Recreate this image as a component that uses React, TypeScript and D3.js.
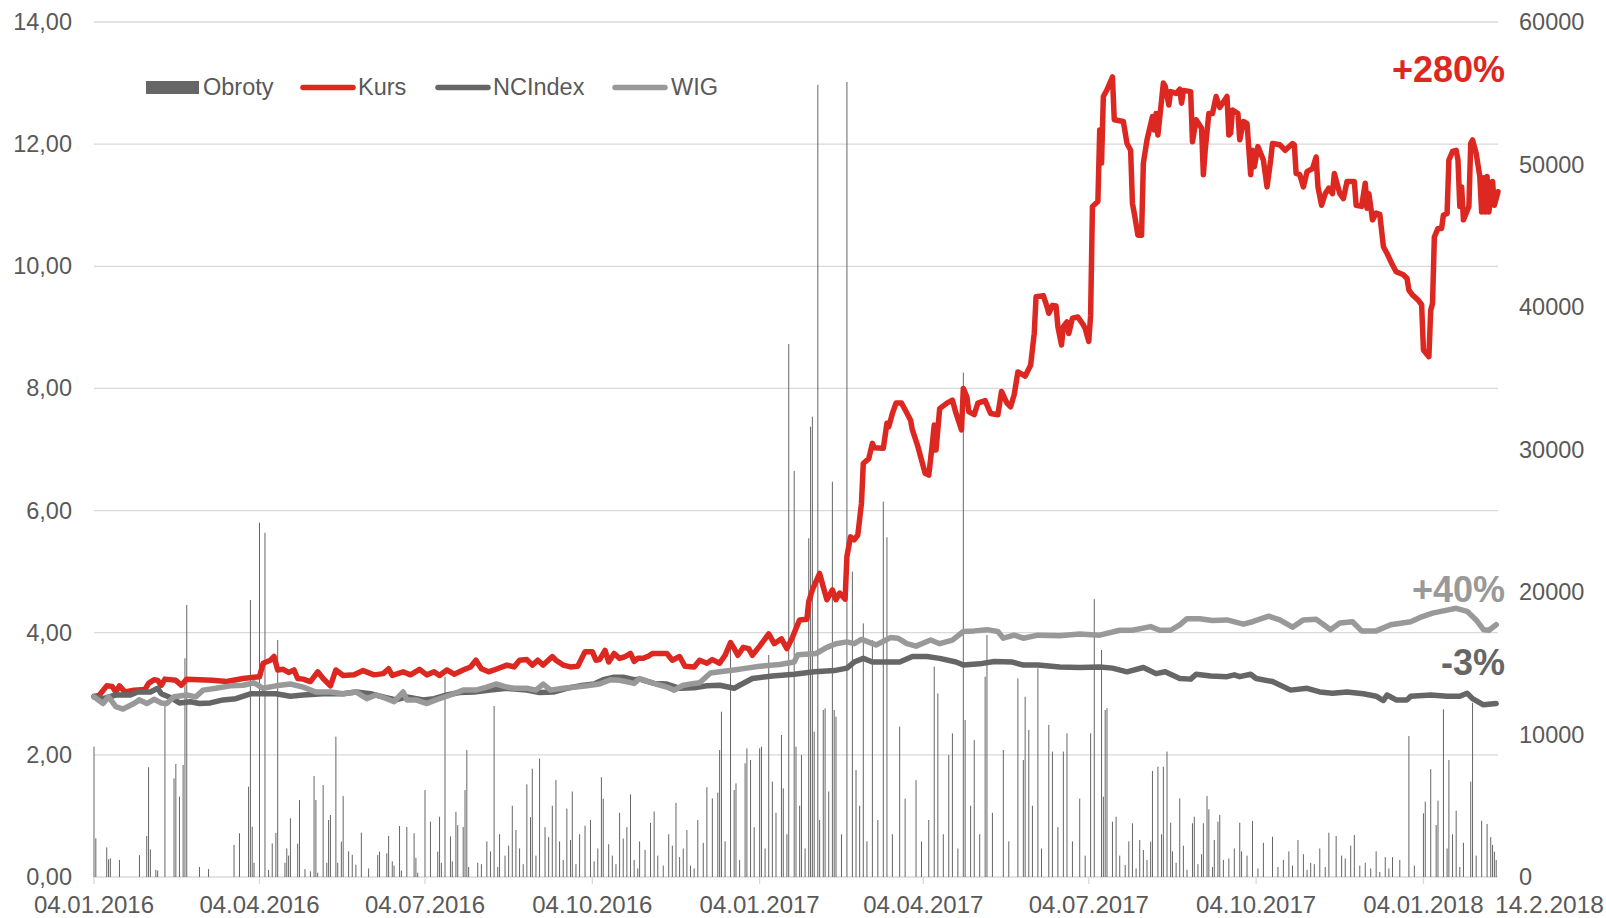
import React from "react";
import * as d3 from "d3";

// ---- data (day offset from 04.01.2016, value) ----
const KURS: [number, number][] = [
  [0,2.95],[3,2.98],[7,3.13],[10,3.12],[12,3.03],[14,3.13],[17,3.03],[22,3.06],[28,3.07],[30,3.17],[33,3.23],[35,3.22],[37,3.14],[39,3.24],[45,3.22],[48,3.14],[51,3.24],[58,3.23],[65,3.22],[73,3.2],[82,3.25],[91,3.28],[93,3.5],[97,3.55],[99,3.61],[101,3.39],[104,3.4],[107,3.35],[110,3.39],[112,3.25],[115,3.24],[119,3.2],[123,3.36],[126,3.25],[130,3.13],[133,3.39],[137,3.3],[143,3.31],[148,3.38],[154,3.31],[159,3.33],[162,3.41],[164,3.3],[170,3.36],[174,3.31],[179,3.4],[183,3.31],[187,3.36],[190,3.3],[194,3.39],[198,3.32],[203,3.39],[207,3.44],[210,3.55],[213,3.41],[217,3.36],[220,3.39],[227,3.47],[231,3.44],[234,3.55],[238,3.56],[241,3.47],[244,3.55],[247,3.47],[252,3.61],[254,3.55],[258,3.47],[262,3.44],[266,3.45],[270,3.69],[274,3.69],[276,3.55],[278,3.56],[281,3.71],[283,3.52],[286,3.66],[289,3.58],[292,3.61],[295,3.66],[297,3.53],[299,3.58],[302,3.58],[305,3.62],[307,3.66],[315,3.66],[318,3.55],[322,3.61],[325,3.45],[330,3.44],[333,3.55],[337,3.5],[340,3.56],[344,3.5],[347,3.63],[350,3.84],[352,3.74],[354,3.63],[357,3.76],[360,3.74],[362,3.63],[366,3.78],[371,3.98],[374,3.82],[378,3.9],[381,3.74],[384,3.92],[386,4.07],[388,4.21],[392,4.22],[393,4.51],[395,4.7],[399,4.97],[401,4.75],[403,4.54],[406,4.7],[408,4.54],[410,4.65],[413,4.55],[414,5.25],[416,5.57],[418,5.52],[420,5.6],[422,6.12],[423,6.77],[426,6.85],[428,7.1],[429,7.03],[434,7.02],[436,7.43],[437,7.37],[439,7.59],[441,7.76],[444,7.76],[446,7.65],[449,7.48],[450,7.32],[453,7.05],[457,6.61],[459,6.58],[461,7.1],[462,7.4],[463,6.99],[465,7.67],[469,7.76],[472,7.81],[474,7.59],[477,7.32],[478,8.0],[480,7.86],[481,7.62],[484,7.57],[486,7.76],[490,7.8],[493,7.59],[497,7.57],[499,7.95],[502,7.76],[504,7.7],[506,7.9],[508,8.27],[512,8.2],[515,8.38],[517,8.9],[518,9.5],[522,9.52],[524,9.34],[525,9.23],[527,9.36],[529,9.35],[530,9.01],[532,8.71],[533,9.01],[535,9.09],[536,8.9],[538,9.15],[541,9.17],[544,9.04],[545,8.98],[547,8.77],[548,9.2],[549,10.98],[552,11.06],[553,12.23],[554,11.69],[555,12.78],[557,12.89],[560,13.1],[561,12.4],[566,12.37],[568,12.01],[570,11.9],[571,11.03],[572,10.87],[574,10.51],[576,10.51],[577,11.69],[579,12.07],[582,12.45],[583,12.23],[584,12.5],[585,12.15],[588,13.0],[589,12.95],[591,12.64],[592,12.86],[595,12.83],[597,12.9],[598,12.67],[599,12.88],[603,12.86],[604,12.04],[606,12.4],[609,12.26],[610,11.5],[611,11.9],[613,12.5],[615,12.5],[617,12.78],[619,12.6],[623,12.78],[624,12.15],[625,12.18],[626,12.56],[629,12.5],[630,12.07],[632,12.37],[634,12.34],[636,11.5],[637,11.9],[638,11.63],[640,11.96],[643,11.74],[645,11.3],[647,11.74],[648,12.01],[652,11.99],[655,11.9],[659,12.01],[660,11.99],[661,11.52],[663,11.5],[665,11.3],[667,11.55],[670,11.6],[672,11.79],[673,11.3],[675,11.0],[677,11.19],[679,11.28],[681,11.19],[682,11.52],[683,11.41],[685,11.19],[687,11.11],[689,11.39],[693,11.39],[694,11.0],[697,10.98],[699,11.36],[700,10.95],[701,11.19],[703,10.76],[705,10.87],[707,10.85],[709,10.32],[711,10.21],[714,10.02],[716,9.91],[720,9.86],[722,9.8],[723,9.61],[725,9.53],[728,9.45],[730,9.37],[731,8.63],[734,8.52],[735,9.28],[736,9.39],[737,10.48],[739,10.62],[741,10.62],[742,10.84],[744,10.86],[745,11.74],[747,11.88],[749,11.9],[750,11.74],[751,10.98],[752,11.3],[753,10.76],[756,10.98],[757,12.01],[758,12.07],[760,11.85],[762,11.47],[763,10.89],[764,11.45],[765,10.89],[766,11.47],[767,10.89],[769,11.39],[770,11.0],[772,11.22]
];

const NCINDEX: [number, number][] = [
  [0,2.96],[5,2.92],[12,2.98],[20,2.98],[24,3.03],[31,3.03],[35,3.09],[37,3.0],[42,2.94],[47,2.85],[53,2.87],[58,2.84],[64,2.85],[71,2.9],[78,2.92],[86,3.0],[91,3.0],[100,3.0],[108,2.96],[115,2.98],[126,3.0],[137,3.0],[144,3.03],[152,3.0],[159,2.95],[166,2.9],[172,2.95],[181,2.9],[187,2.92],[194,2.98],[201,3.02],[209,3.03],[218,3.06],[227,3.09],[238,3.06],[245,3.02],[253,3.03],[260,3.09],[267,3.13],[275,3.16],[280,3.23],[286,3.27],[291,3.27],[297,3.23],[300,3.24],[308,3.17],[315,3.16],[322,3.09],[330,3.1],[337,3.13],[344,3.14],[352,3.09],[355,3.14],[362,3.25],[373,3.29],[385,3.32],[396,3.36],[407,3.38],[414,3.42],[418,3.52],[423,3.58],[428,3.52],[436,3.52],[443,3.52],[450,3.61],[458,3.61],[465,3.58],[474,3.52],[478,3.47],[487,3.49],[495,3.53],[505,3.52],[511,3.47],[519,3.47],[531,3.44],[542,3.43],[553,3.44],[560,3.42],[568,3.36],[577,3.43],[584,3.33],[589,3.36],[597,3.25],[603,3.24],[606,3.32],[614,3.29],[623,3.28],[627,3.31],[630,3.28],[636,3.32],[639,3.25],[648,3.2],[658,3.06],[667,3.09],[674,3.03],[681,3.01],[689,3.03],[698,3.0],[705,2.96],[709,2.89],[711,2.98],[716,2.9],[722,2.9],[724,2.96],[735,2.98],[744,2.96],[751,2.96],[755,3.01],[758,2.92],[764,2.82],[771,2.84]
];

const WIG: [number, number][] = [
  [0,2.95],[5,2.84],[8,2.95],[12,2.79],[16,2.75],[22,2.84],[25,2.9],[29,2.84],[33,2.91],[37,2.85],[40,2.84],[44,2.95],[51,2.98],[56,2.95],[60,3.06],[67,3.09],[75,3.13],[82,3.14],[88,3.18],[93,3.09],[100,3.13],[108,3.16],[115,3.11],[122,3.03],[130,3.03],[137,3.0],[144,3.03],[150,2.92],[155,2.98],[161,2.92],[165,2.87],[170,3.03],[172,2.9],[177,2.9],[183,2.84],[188,2.9],[196,2.98],[203,3.06],[210,3.06],[216,3.11],[221,3.16],[227,3.11],[231,3.09],[238,3.09],[243,3.06],[247,3.16],[251,3.06],[258,3.09],[265,3.11],[271,3.13],[278,3.16],[284,3.23],[289,3.22],[297,3.17],[300,3.25],[305,3.2],[309,3.16],[315,3.11],[319,3.06],[324,3.14],[330,3.17],[333,3.18],[339,3.34],[344,3.36],[352,3.39],[359,3.42],[366,3.45],[377,3.48],[385,3.52],[387,3.64],[397,3.66],[403,3.76],[408,3.82],[414,3.85],[418,3.82],[422,3.89],[430,3.8],[438,3.92],[442,3.91],[447,3.82],[452,3.78],[460,3.88],[465,3.82],[472,3.88],[478,4.02],[484,4.03],[491,4.05],[497,4.02],[500,3.91],[506,3.96],[511,3.91],[519,3.96],[531,3.95],[542,3.98],[553,3.96],[564,4.04],[571,4.04],[581,4.1],[586,4.04],[592,4.04],[597,4.13],[601,4.23],[608,4.23],[615,4.2],[623,4.21],[632,4.14],[637,4.18],[646,4.27],[652,4.21],[659,4.09],[665,4.21],[672,4.22],[680,4.05],[685,4.16],[692,4.18],[697,4.03],[705,4.03],[713,4.13],[724,4.18],[730,4.26],[736,4.32],[744,4.37],[749,4.4],[755,4.35],[760,4.21],[764,4.05],[767,4.04],[771,4.13]
];

const OBROTY: [number, number][] = [
  [0,9145],[1,2715],[7,2080],[8,1240],[9,1310],[14,1190],[25,1540],[29,2880],[30,7700],[31,1940],[34,500],[35,450],[39,12190],[44,6920],[45,7930],[47,5640],[49,7860],[50,15350],[51,19090],[58,700],[63,560],[77,2250],[80,3070],[85,6340],[86,19440],[87,3530],[88,1000],[91,24870],[94,24150],[96,500],[98,2360],[100,3090],[101,16630],[105,1000],[106,2000],[107,1500],[108,4120],[112,2340],[113,5400],[116,550],[119,400],[121,7090],[122,5400],[123,300],[126,6460],[128,1000],[129,4000],[130,4350],[133,9850],[134,1000],[136,2480],[137,5680],[140,1800],[142,1560],[144,860],[147,3110],[151,600],[156,1540],[157,1780],[161,1660],[162,2880],[164,1100],[165,800],[168,3580],[169,450],[172,3510],[176,3070],[177,1350],[178,300],[182,6100],[185,3880],[189,1780],[190,4230],[191,1000],[193,14060],[196,2850],[197,1100],[199,4580],[200,3640],[203,3510],[204,6100],[205,8910],[206,700],[211,1000],
  [213,900],[216,2500],[218,1800],[220,12000],[222,700],[223,3000],[226,1500],[228,2200],[230,5000],[232,3300],[234,2000],[236,900],[238,6500],[240,4200],[241,7600],[243,1500],[245,8300],[248,3500],[250,2800],[252,5000],[254,6800],[256,2500],[258,1200],[260,4800],[262,2600],[263,6000],[265,900],[267,3000],[270,3600],[273,4000],[275,1100],[277,2000],[279,7000],[280,5500],[283,2300],[285,1500],[287,900],[289,4500],[291,2700],[293,3500],[295,5800],[297,1200],[299,600],[300,2500],[303,1900],[306,3800],[308,4600],[310,1500],[313,800],[316,3000],[318,2200],[320,5200],[322,1400],[324,2000],[326,3300],[328,800],[330,600],[332,4000],[335,2400],
  [337,6300],[340,5520],[343,5920],[344,8910],[345,11600],[347,2500],[350,16050],[352,6100],[353,6570],[355,1200],[358,7980],[359,9030],[361,8210],[363,3500],[366,9030],[367,9145],[369,2000],[371,15580],[373,6690],[375,4500],[378,9970],[379,6220],[381,3000],[382,37400],[385,28500],[386,9145],[388,5000],[389,8560],[391,2000],[393,23770],[394,31600],[395,32300],[396,10200],[398,55600],[399,4000],[401,11720],[402,11840],[404,6000],[406,27740],[407,11720],[408,11250],[411,3000],[414,55800],[417,21430],[419,7510],[421,5000],[423,17800],[425,2500],[428,16630],[431,4000],[434,26340],[436,23840],[439,3000],[443,10550],[446,5500],[452,6800],[455,2500],[459,4000],[462,14760],[464,12890],[467,3000],[470,8560],[472,10080],[475,2000],[478,35400],[479,11020],[482,5000],[484,9610],[487,3000],[490,14060],[491,16980],[494,4500],[500,8910],[503,2500],[508,13940],[511,8210],[512,12650],[514,10320],[516,5000],[519,14650],[521,2000],[525,10670],[527,8800],[530,3500],[533,8800],[535,10080],[538,2500],[542,5500],[545,1500],[548,10080],[550,19500],
  [554,15930],[555,5640],[556,11720],[557,11840],[560,3880],[562,4230],[564,1500],[567,840],[569,2500],[571,3770],[573,600],[575,2600],[577,1900],[579,1200],[581,2480],[582,7440],[585,7740],[587,3000],[588,7740],[590,8800],[592,3810],[593,1800],[595,1000],[597,5520],[599,2200],[601,500],[604,3770],[605,4230],[607,900],[609,1600],[610,3770],[612,5680],[613,4750],[615,700],[616,2600],[618,3880],[619,4350],[621,1200],[624,1300],[627,2000],[630,3810],[631,1800],[634,1500],[637,3930],[640,600],[643,2400],[648,2830],[651,700],[654,1200],[657,1800],[659,800],[662,2600],[665,1600],[667,500],[669,1000],[671,900],[674,2000],[677,700],[679,3110],[683,2880],[686,1500],[688,1300],[691,2200],[693,2950],[696,800],[699,1000],[702,600],[705,1800],[707,350],[710,1400],[712,600],[714,1400],[718,1200],[723,9900],[726,800],[731,4470],[732,5290],[735,7560],[738,3650],[739,5360],[742,11770],[744,2000],[745,8210],[747,3000],[749,4650],[751,700],[753,2400],[757,6690],[758,12230],[760,1500],[763,3950],[766,3720],[768,2800],[769,2250],[770,1780],[771,1200]
];

const LEFT_TICKS = [0, 2, 4, 6, 8, 10, 12, 14];
const RIGHT_TICKS = [0, 10000, 20000, 30000, 40000, 50000, 60000];
const X_TICKS: [number, number, number, string][] = [
  [2016, 0, 4, "04.01.2016"], [2016, 3, 4, "04.04.2016"], [2016, 6, 4, "04.07.2016"], [2016, 9, 4, "04.10.2016"],
  [2017, 0, 4, "04.01.2017"], [2017, 3, 4, "04.04.2017"], [2017, 6, 4, "04.07.2017"], [2017, 9, 4, "04.10.2017"],
  [2018, 0, 4, "04.01.2018"],
];
const END_LABEL = "14.2.2018";
const LEGEND = [
  { name: "Obroty", kind: "bar", color: "#666666" },
  { name: "Kurs", kind: "line", color: "#DC2820" },
  { name: "NCIndex", kind: "line", color: "#666666" },
  { name: "WIG", kind: "line", color: "#999999" },
];
const ANNOTATIONS = [
  { text: "+280%", color: "#DC2820" },
  { text: "+40%", color: "#999999" },
  { text: "-3%", color: "#666666" },
];

const W = 1606, H = 918;
const X0 = 94, X1 = 1498, Y0 = 877, Y1 = 22;
const FONT = "'Liberation Sans', Arial, sans-serif";

export default function App() {
  const dateOf = (d: number) => new Date(Date.UTC(2016, 0, 4 + d));
  const x = d3.scaleUtc().domain([new Date(Date.UTC(2016, 0, 4)), new Date(Date.UTC(2018, 1, 14))]).range([X0, X1]);
  const yL = d3.scaleLinear().domain([0, 14]).range([Y0, Y1]);
  const yR = d3.scaleLinear().domain([0, 60000]).range([Y0, Y1]);
  const line = d3.line<[number, number]>().x(p => x(dateOf(p[0]))).y(p => yL(p[1]));
  const fmtL = (v: number) => v.toFixed(2).replace(".", ",");

  const legendX = [146, 300, 435, 612];
  const legendTextX = [203, 358, 493, 671];

  return (
    <svg width={W} height={H} style={{ position: "absolute", left: 0, top: 0, background: "#fff" }} fontFamily={FONT}>
      <rect x={0} y={0} width={W} height={H} fill="#fff" />
      {LEFT_TICKS.map(t => (
        <line key={"g" + t} x1={X0} x2={X1} y1={yL(t)} y2={yL(t)} stroke="#D9D9D9" strokeWidth={1.3} />
      ))}
      {X_TICKS.map(([yy, mm, dd]) => {
        const px = x(new Date(Date.UTC(yy, mm, dd)));
        return <line key={"t" + px} x1={px} x2={px} y1={Y0} y2={Y0 + 7} stroke="#D9D9D9" strokeWidth={1.3} />;
      })}
      <g>
        {OBROTY.map(([d, v], i) => (
          <rect key={"b" + i} x={x(dateOf(d)) - 0.5} width={1} y={yR(v)} height={Y0 - yR(v)} fill="#666666" />
        ))}
      </g>
      <path d={line(KURS) || ""} fill="none" stroke="#DC2820" strokeWidth={5.5} strokeLinejoin="round" strokeLinecap="round" />
      <path d={line(NCINDEX) || ""} fill="none" stroke="#666666" strokeWidth={5.5} strokeLinejoin="round" strokeLinecap="round" />
      <path d={line(WIG) || ""} fill="none" stroke="#999999" strokeWidth={5.5} strokeLinejoin="round" strokeLinecap="round" />

      {LEFT_TICKS.map(t => (
        <text key={"l" + t} x={72} y={yL(t) + 8} textAnchor="end" fontSize={23.5} fill="#595959">{fmtL(t)}</text>
      ))}
      {RIGHT_TICKS.map(t => (
        <text key={"r" + t} x={1519} y={yR(t) + 8} textAnchor="start" fontSize={23.5} fill="#595959">{String(t)}</text>
      ))}
      {X_TICKS.map(([yy, mm, dd, lab]) => (
        <text key={"x" + lab} x={x(new Date(Date.UTC(yy, mm, dd)))} y={913} textAnchor="middle" fontSize={24} fill="#595959">{lab}</text>
      ))}
      <text x={1604} y={913} textAnchor="end" fontSize={24.5} fill="#595959">{END_LABEL}</text>

      {LEGEND.map((l, i) => (
        <g key={l.name}>
          {l.kind === "bar" ? (
            <rect x={legendX[i]} y={81} width={53} height={13} fill={l.color} />
          ) : (
            <line x1={legendX[i] + 3} x2={legendX[i] + 53} y1={87.5} y2={87.5} stroke={l.color} strokeWidth={5.5} strokeLinecap="round" />
          )}
          <text x={legendTextX[i]} y={95} fontSize={23.5} fill="#595959">{l.name}</text>
        </g>
      ))}

      <text x={1505} y={82} textAnchor="end" fontSize={36} fontWeight="bold" fill={ANNOTATIONS[0].color}>{ANNOTATIONS[0].text}</text>
      <text x={1505} y={602} textAnchor="end" fontSize={36} fontWeight="bold" fill={ANNOTATIONS[1].color}>{ANNOTATIONS[1].text}</text>
      <text x={1505} y={675} textAnchor="end" fontSize={36} fontWeight="bold" fill={ANNOTATIONS[2].color}>{ANNOTATIONS[2].text}</text>
    </svg>
  );
}
